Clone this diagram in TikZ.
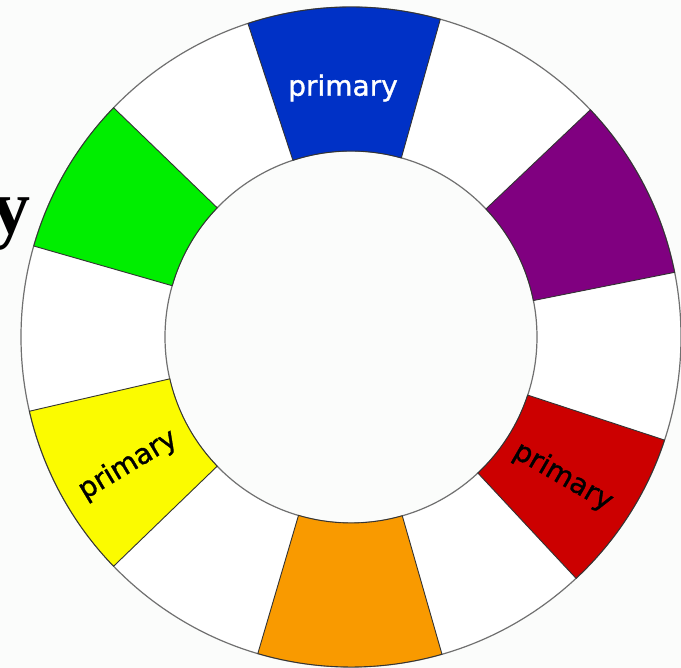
\documentclass[tikz,border=0pt]{standalone}
\usepackage{fontspec}
\newfontfamily\labfont[FakeBold=1.2]{DejaVu Sans}
\newfontfamily\yfont{Liberation Serif}
\definecolor{bgc}{HTML}{FBFCFB}
\definecolor{cblue}{HTML}{0031C6}
\definecolor{cgreen}{HTML}{00EE00}
\definecolor{cpurple}{HTML}{800080}
\definecolor{cred}{HTML}{CC0000}
\definecolor{corange}{HTML}{F99A00}
\definecolor{cyellow}{HTML}{FBFB00}
\definecolor{ringc}{HTML}{707070}
\newcommand\colseg[3]{\filldraw[seg,fill=#3] (#1:\RadIn) arc[start angle=#1,end angle=#2,radius=\RadIn] -- (#2:\RadOut) arc[start angle=#2,end angle=#1,radius=\RadOut] -- cycle;}
\begin{document}
\begin{tikzpicture}[x=1pt,y=1pt,
  seg/.style={draw=black!80, line width=0.9pt},
  ring/.style={draw=ringc, line width=1.2pt},
  lab/.style={font=\labfont\fontsize{28}{28}\selectfont, inner sep=0pt}]
\fill[bgc] (0,0) rectangle (681,668);
\useasboundingbox (0,0) rectangle (681,668);
\begin{scope}[shift={(351,331)}]
  \def\RadIn{186}
  \def\RadOut{330}
  \fill[white] (0,0) circle (\RadOut);
  \fill[bgc] (0,0) circle (\RadIn);
  \draw[ring] (0,0) circle (\RadOut);
  \draw[ring] (0,0) circle (\RadIn);
  \colseg{74.3}{108.2}{cblue}
  \colseg{11.3}{43.5}{cpurple}
  \colseg{-47}{-18.2}{cred}
  \colseg{-106.4}{-74}{corange}
  \colseg{-167}{-136}{cyellow}
  \colseg{136}{164}{cgreen}
\end{scope}
\node[lab, text=white] (pblue) at (343,580) {primary};
\node[lab, text=black, rotate=31] (pyellow) at (128,203) {primary};
\node[lab, text=black, rotate=-30] (pred) at (563,191) {primary};
\node[font=\yfont\bfseries\fontsize{78}{78}\selectfont, inner sep=0pt, anchor=base east] (ylet) at (31,434) {y};
\end{tikzpicture}
\end{document}
